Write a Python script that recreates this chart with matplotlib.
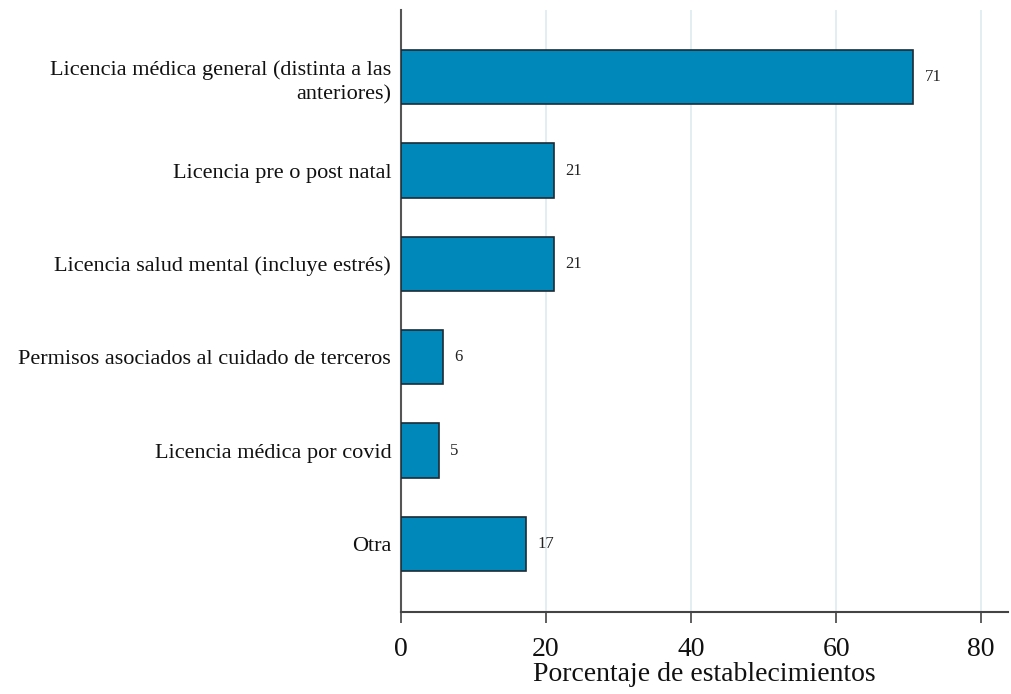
import numpy as np
import matplotlib
matplotlib.use('Agg')
from matplotlib import pyplot as plt

categories = ['Licencia médica general (distinta a las\nanteriores)',
              'Licencia pre o post natal',
              'Licencia salud mental (incluye estrés)',
              'Permisos asociados al cuidado de terceros',
              'Licencia médica por covid',
              'Otra']
values = [70.6, 21.1, 21.1, 5.8, 5.2, 17.2]
value_labels = ['71', '21', '21', '6', '5', '17']
xticks = [0, 20, 40, 60, 80]

plt.rcParams['font.family'] = ['Liberation Serif', 'DejaVu Serif']

fig = plt.figure(figsize=(10.11, 6.94), dpi=100)
ax = fig.add_axes([0.3966, 0.1182, 0.6004, 0.8674])

y = np.arange(len(categories))
ax.barh(y, values, height=0.58, color='#0088bb', edgecolor='#1c2b36', linewidth=1.2, zorder=3)
for yi, v, lab in zip(y, values, value_labels):
    ax.text(v + 1.6, yi, lab, va='center', ha='left', fontsize=12, color='#222222')

ax.set_ylim(5.73, -0.72)
ax.set_xlim(0, 83.7)
ax.set_yticks(y)
ax.set_yticklabels(categories, fontsize=16, color='#111111', linespacing=1.35)
ax.tick_params(axis='y', length=0, pad=7)
ax.set_xticks(xticks)
ax.set_xticklabels([str(t) for t in xticks], fontsize=20, color='#111111')
ax.tick_params(axis='x', length=8, width=1.2, color='#444444', pad=10)
ax.set_xlabel('Porcentaje de establecimientos', fontsize=20, color='#111111', labelpad=0)

for t in xticks[1:]:
    ax.axvline(t, color='#e3eef2', linewidth=1.4, zorder=0)

ax.spines['top'].set_visible(False)
ax.spines['right'].set_visible(False)
ax.spines['left'].set_color('#555555')
ax.spines['bottom'].set_color('#444444')
ax.spines['left'].set_linewidth(1.5)
ax.spines['bottom'].set_linewidth(1.5)

fig.savefig('out.png', dpi=100)
